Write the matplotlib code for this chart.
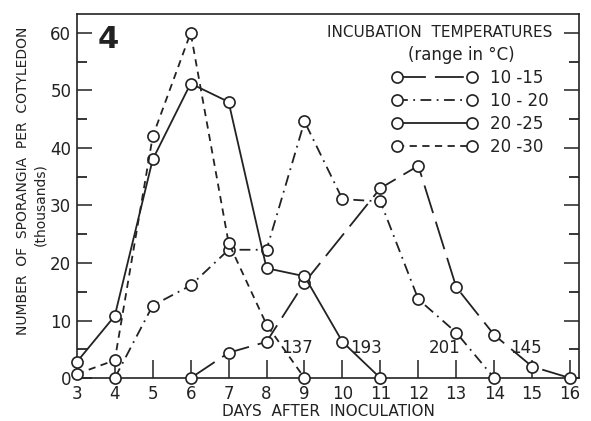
import matplotlib.pyplot as plt
from matplotlib.ticker import MultipleLocator

plt.rcParams['font.family'] = ['DejaVu Sans']

# sporangia per cotyledon (thousands) for each incubation temperature range
days_10_15 = [6, 7, 8, 9, 11, 12, 13, 14, 15, 16]
vals_10_15 = [0, 4.4, 6.3, 16.6, 33.0, 36.9, 15.8, 7.5, 2.0, 0]

days_10_20 = [4, 5, 6, 7, 8, 9, 10, 11, 12, 13, 14]
vals_10_20 = [0, 12.6, 16.1, 22.3, 22.3, 44.6, 31.1, 30.7, 13.7, 7.9, 0]

days_20_25 = [3, 4, 5, 6, 7, 8, 9, 10, 11]
vals_20_25 = [2.8, 10.8, 38.0, 51.2, 48.0, 19.1, 17.7, 6.3, 0]

days_20_30 = [3, 4, 5, 6, 7, 8, 9]
vals_20_30 = [0.7, 3.1, 42.0, 60.0, 23.5, 9.3, 0]

labels = ['10 -15', '10 - 20', '20 -25', '20 -30']

# counts written just above the axis
note_x = [8.8, 10.62, 12.7, 14.83]
note_txt = ['137', '193', '201', '145']

fig = plt.figure(figsize=(5.91, 4.21), dpi=100)
ax = fig.add_axes([0.130, 0.102, 0.850, 0.865])

style = dict(color='#222222', lw=1.3, marker='o', ms=8, mfc='white',
             mec='#222222', mew=1.2, clip_on=False, zorder=3)
l1, = ax.plot(days_10_15, vals_10_15, dashes=(16, 5), **style)
l2, = ax.plot(days_10_20, vals_10_20, dashes=(6, 3, 1, 3), **style)
l3, = ax.plot(days_20_25, vals_20_25, ls='-', **style)
l4, = ax.plot(days_20_30, vals_20_30, dashes=(4, 3), **style)

ax.set_xlim(3, 16.24)
ax.set_ylim(0, 63.3)

ax.xaxis.set_major_locator(MultipleLocator(1))
ax.yaxis.set_major_locator(MultipleLocator(10))
ax.yaxis.set_minor_locator(MultipleLocator(5))
ax.tick_params(axis='x', direction='in', length=13, width=1.1, labelsize=12,
               pad=5, colors='#222222')
ax.tick_params(axis='y', which='major', direction='in', length=11, width=1.1,
               labelsize=12, pad=4, colors='#222222', right=True)
ax.tick_params(axis='y', which='minor', direction='in', length=7, width=1.1,
               right=True)
for s in ax.spines.values():
    s.set_linewidth(1.2)
    s.set_color('#222222')

for x, t in zip(note_x, note_txt):
    ax.text(x, 5.2, t, ha='center', va='center', fontsize=12, color='#222222')

ax.text(3.55, 56.4, '4', fontsize=22, fontweight='bold', ha='left',
        va='bottom', color='#222222')

ax.set_xlabel('DAYS  AFTER  INOCULATION', fontsize=11, color='#222222',
              labelpad=1)
fig.text(0.039, 1 - 181 / 421, 'NUMBER  OF  SPORANGIA  PER  COTYLEDON',
         rotation=90, ha='center', va='center', fontsize=10, color='#222222')
fig.text(0.068, 1 - 205 / 421, '(thousands)', rotation=90, ha='center',
         va='center', fontsize=10, color='#222222')

ax.text(0.946, 0.948, 'INCUBATION  TEMPERATURES', transform=ax.transAxes,
        ha='right', va='center', fontsize=11, color='#222222')
ax.text(0.765, 0.887, '(range in °C)', transform=ax.transAxes,
        ha='center', va='center', fontsize=12, color='#222222')

leg = ax.legend([l1, l2, l3, l4], labels, loc='upper left',
                bbox_to_anchor=(0.627, 0.849), frameon=False, numpoints=2,
                handlelength=5.1, handletextpad=0.8, labelspacing=0.3,
                borderpad=0, borderaxespad=0, fontsize=12)
for t in leg.get_texts():
    t.set_color('#222222')

fig.savefig('out.png', dpi=100)
